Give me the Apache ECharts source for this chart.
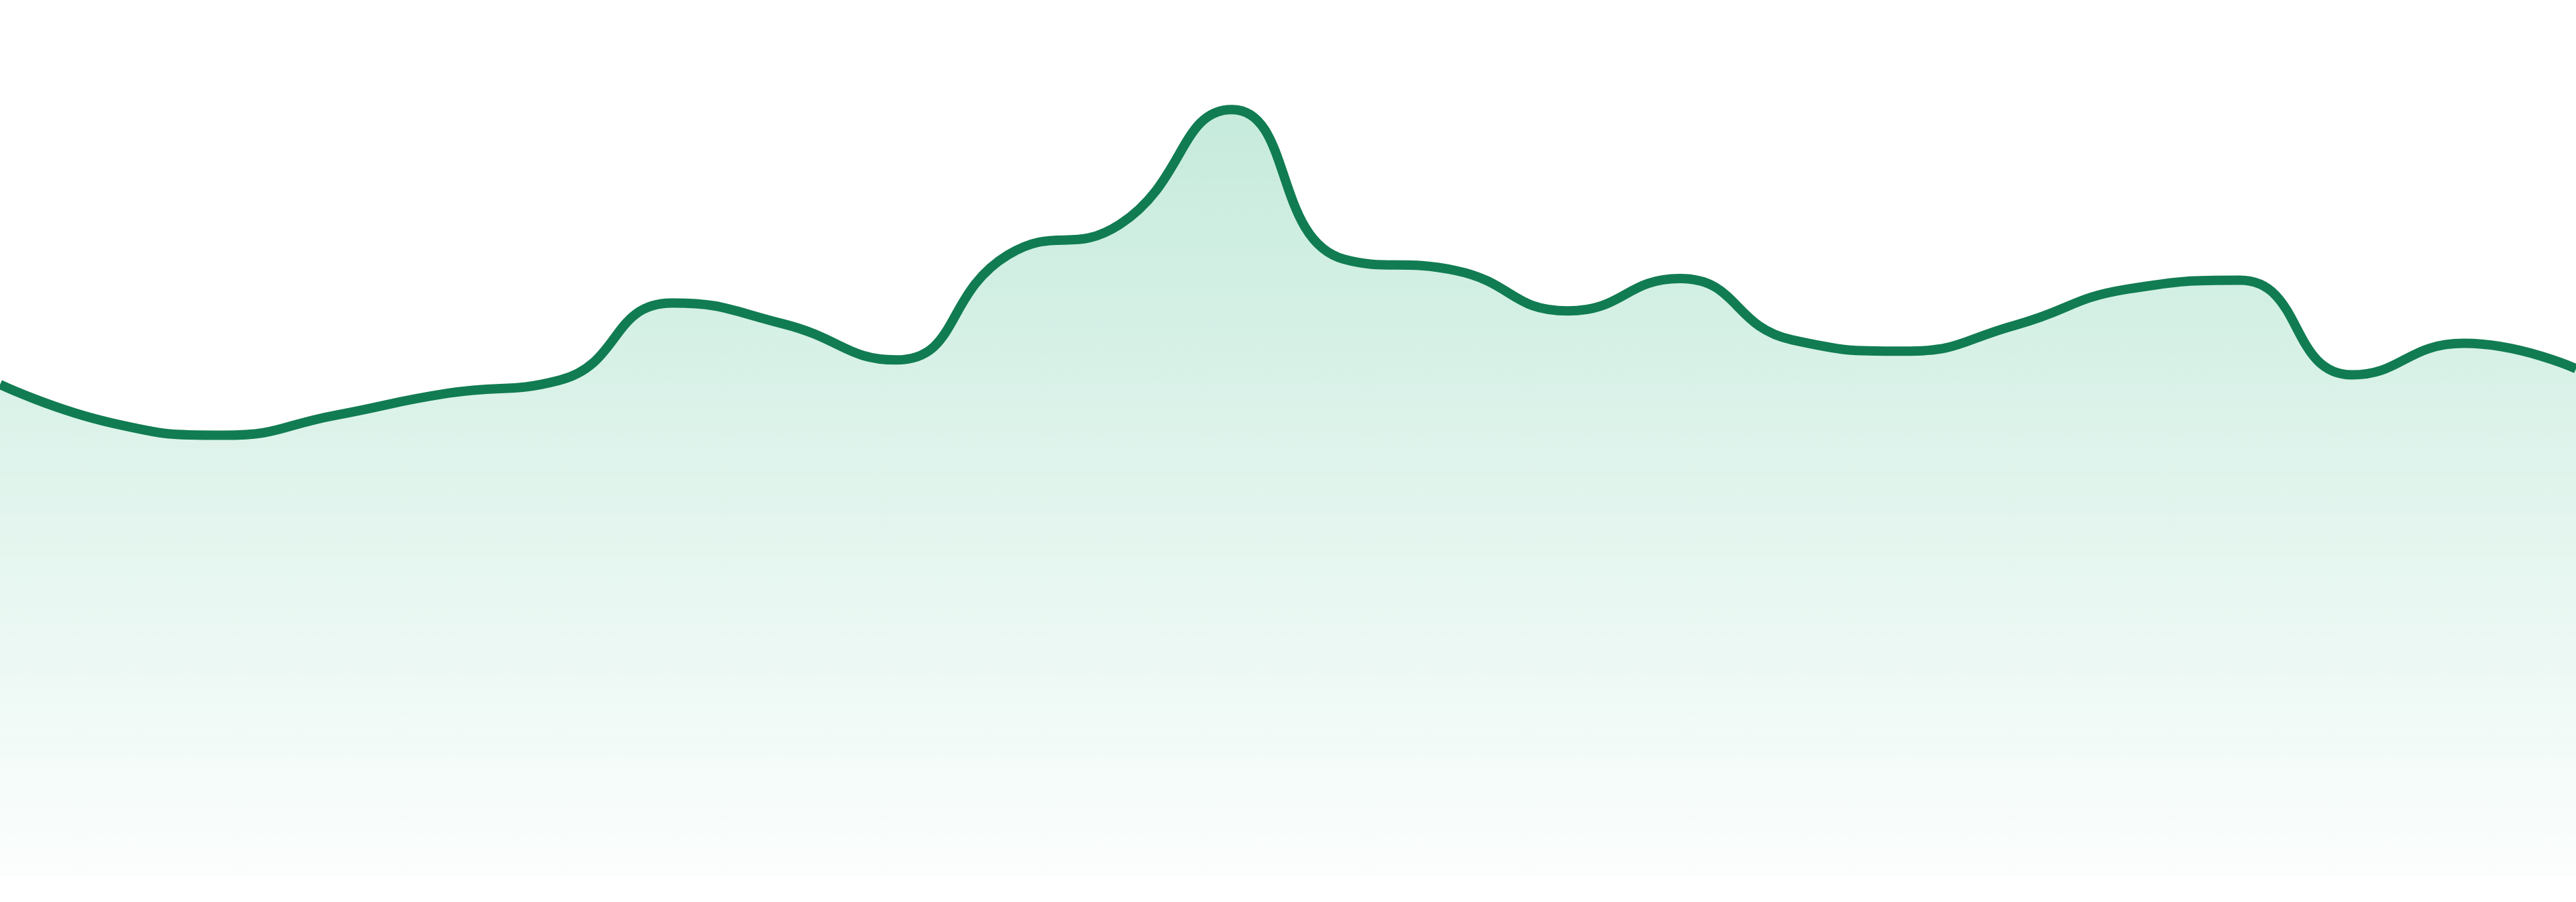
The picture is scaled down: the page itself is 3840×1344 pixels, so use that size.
<!DOCTYPE html>
<html lang="en">
<head>
    <meta charset="UTF-8">
    <title>Area trend</title>
    <script src="https://cdn.jsdelivr.net/npm/echarts@6/dist/echarts.min.js"></script>
    <style>
        html, body { margin: 0; padding: 0; background: #ffffff; }
        #chart { width: 3840px; height: 1344px; }
    </style>
</head>
<body>
<div id="chart"></div>
<script>
    // 24 points, one per hour
    var hours = ['00:00', '01:00', '02:00', '03:00', '04:00', '05:00', '06:00', '07:00',
        '08:00', '09:00', '10:00', '11:00', '12:00', '13:00', '14:00', '15:00',
        '16:00', '17:00', '18:00', '19:00', '20:00', '21:00', '22:00', '23:00'];
    var values = [56.1, 51.7, 50.3, 52.6, 55.1, 56.6, 65.4, 63.0,
        58.9, 70.9, 74.4, 87.5, 70.4, 69.1, 64.5, 68.2,
        61.2, 59.9, 62.9, 67.0, 68.0, 57.2, 60.8, 57.9];
    var yMin = 0;
    var yMax = 100;

    var myChart = echarts.init(document.getElementById('chart'));
    var option = {
        animation: false,
        grid: { left: 0, right: 0, top: 0, bottom: 39 },
        xAxis: {
            type: 'category',
            data: hours,
            boundaryGap: false,
            show: false
        },
        yAxis: {
            type: 'value',
            min: yMin,
            max: yMax,
            show: false
        },
        series: [{
            type: 'line',
            data: values,
            smooth: 0.5,
            symbol: 'none',
            lineStyle: { color: '#117c52', width: 14 },
            areaStyle: {
                color: new echarts.graphic.LinearGradient(0, 0, 0, 1, [
                    { offset: 0, color: 'rgba(16, 170, 110, 0.34)' },
                    { offset: 1, color: 'rgba(16, 170, 110, 0.02)' }
                ])
            }
        }]
    };
    myChart.setOption(option);
</script>
</body>
</html>
